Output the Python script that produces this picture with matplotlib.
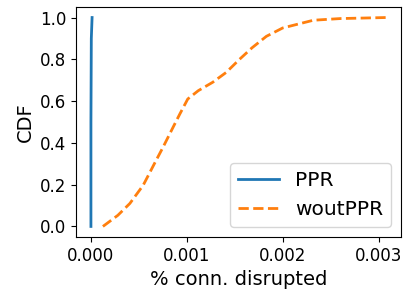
import numpy as np
import matplotlib
matplotlib.use('Agg')
import matplotlib.pyplot as plt

# PPR: almost nothing disrupted
ppr_x = [0.0, 0.0, 0.000004, 0.000012]
ppr_y = [0.0, 0.5, 0.9, 1.0]

# woutPPR CDF
wout_x = [0.000125, 0.00028, 0.000406, 0.000545, 0.00065, 0.000753, 0.000857,
          0.000927, 0.00101, 0.00112, 0.00127, 0.00141, 0.00155, 0.00168,
          0.00183, 0.002, 0.00232, 0.0026, 0.00308]
wout_y = [0.0, 0.053, 0.11, 0.197, 0.29, 0.38, 0.475,
          0.538, 0.61, 0.65, 0.69, 0.737, 0.80, 0.855,
          0.91, 0.95, 0.987, 0.995, 1.0]

fig = plt.figure(figsize=(4.03, 2.95), dpi=100)
ax = fig.add_axes([0.189, 0.197, 0.806, 0.779])
ax.plot(ppr_x, ppr_y, color='#1f77b4', lw=2, label='PPR')
ax.plot(wout_x, wout_y, color='#ff7f0e', lw=2, ls='--', label='woutPPR')
ax.set_xlabel('% conn. disrupted', fontsize=14)
ax.set_ylabel('CDF', fontsize=14)
ax.set_xticks([0.0, 0.001, 0.002, 0.003])
ax.set_yticks([0.0, 0.2, 0.4, 0.6, 0.8, 1.0])
ax.tick_params(labelsize=12)
ax.legend(loc='lower right', fontsize=14.5)
fig.savefig('out.png')
